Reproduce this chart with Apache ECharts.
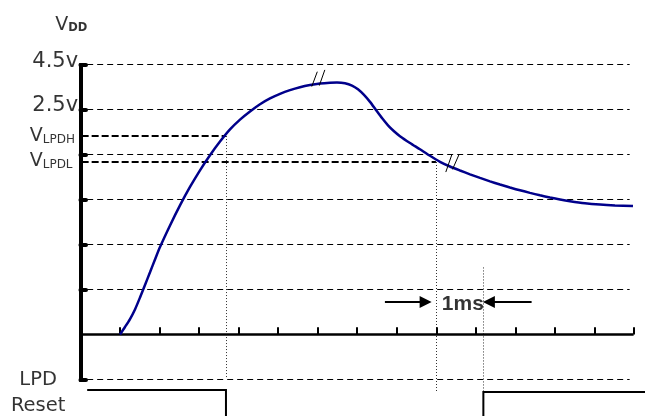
<!DOCTYPE html>
<html><head><meta charset="utf-8">
<script src="https://cdn.jsdelivr.net/npm/echarts@6/dist/echarts.min.js"></script>
<style>html,body{margin:0;padding:0;background:#fff}#c{width:645px;height:416px}</style>
</head><body><div id="c"></div>
<script>
// ---- data (diagram units: x = time ticks, y = level steps) ----
const curveX = [0, 0.126, 0.253, 0.379, 0.506, 0.632, 0.759, 0.885, 1.012, 1.265, 1.517, 1.770, 2.023, 2.276, 2.529, 2.782, 3.035, 3.288, 3.541, 3.794, 4.047, 4.299, 4.552, 4.805, 5.058, 5.311, 5.488, 5.690, 5.868, 6.019, 6.171, 6.323, 6.474, 6.626, 6.778, 6.930, 7.081, 7.334, 7.587, 7.840, 8.093, 8.346, 8.599, 8.852, 9.105, 9.358, 9.611, 9.863, 10.116, 10.369, 10.622, 10.875, 11.128, 11.381, 11.760, 12.140, 12.519, 12.974];
const curveY = [0, 0.167, 0.344, 0.556, 0.822, 1.100, 1.382, 1.667, 1.944, 2.424, 2.869, 3.278, 3.649, 3.984, 4.287, 4.558, 4.776, 4.958, 5.118, 5.247, 5.349, 5.431, 5.496, 5.544, 5.578, 5.596, 5.600, 5.584, 5.533, 5.449, 5.324, 5.169, 4.989, 4.809, 4.649, 4.516, 4.407, 4.256, 4.116, 3.971, 3.838, 3.733, 3.644, 3.560, 3.480, 3.404, 3.333, 3.267, 3.204, 3.147, 3.093, 3.044, 3.000, 2.962, 2.916, 2.887, 2.869, 2.856];
const gridLevels = [6, 5, 4, 3, 2, 1, -1];
const timeTicks = [0, 1, 2, 3, 4, 5, 6, 7, 8, 9, 10, 11, 12, 13];
const vddLevels = ['4.5v', '2.5v'];
const thresholdNames = ['LPDH', 'LPDL'];
const thresholdValues = [4.41, 3.833];
const thresholdCrossX = [2.68, 7.99];
const resetRiseX = 9.19;
const resetHighLevels = [-1.233, -1.278];
const resetLowLevel = -3;
const markerStartY = 1.49;
const oneMsLabel = '1ms';
const oneMsX = [6.70, 7.73, 10.41, 9.33];
const oneMsY = 0.72;
const breakMarks = [
  [[4.85, 5.51], [4.99, 5.84]], [[5.04, 5.53], [5.18, 5.88]],
  [[8.24, 3.61], [8.39, 3.99]], [[8.41, 3.67], [8.58, 4.01]]
];

// ---- layout extents ----
const xMin = -3.035, xMax = 13.278, yMin = -81.5 / 45, yMax = 334.5 / 45;
const axisX = -1, gridStart = -0.83, gridEnd = 12.89, lastTick = 12.99;

function seg(a, b) { return { coords: [a, b] }; }
function linesSeries(data, style, extra) {
  return Object.assign({
    type: 'lines', coordinateSystem: 'cartesian2d', silent: true,
    data: data, lineStyle: Object.assign({ opacity: 1, color: '#000', width: 1 }, style)
  }, extra || {});
}

const dashedGrid = gridLevels.map(l => seg([gridStart, l], [gridEnd, l]));
const thickDashed = thresholdValues.map((v, i) => seg([axisX + 0.03, v], [thresholdCrossX[i], v]));
const dotted = [
  seg([thresholdCrossX[0], thresholdValues[0]], [thresholdCrossX[0], -0.96]),
  seg([thresholdCrossX[1], thresholdValues[1]], [thresholdCrossX[1], resetHighLevels[1]]),
  seg([resetRiseX, markerStartY], [resetRiseX, resetHighLevels[1]])
];
const yAxisLine = [seg([axisX, 6.03], [axisX, -1.05])];
const yTickMarks = gridLevels.map(l => seg([axisX, l], [axisX + 0.14, l]));
const baseLine = [seg([axisX, 0], [lastTick, 0])];
const xTickMarks = timeTicks.map(t => seg([Math.min(t, lastTick), 0], [Math.min(t, lastTick), 0.16]));
const resetLines = [
  { coords: [[gridStart, resetHighLevels[0]], [thresholdCrossX[0], resetHighLevels[0]], [thresholdCrossX[0], resetLowLevel]] },
  { coords: [[resetRiseX, resetLowLevel], [resetRiseX, resetHighLevels[1]], [xMax + 0.5, resetHighLevels[1]]] }
];
const arrows = [
  seg([oneMsX[0], oneMsY], [oneMsX[1], oneMsY]),
  seg([oneMsX[2], oneMsY], [oneMsX[3], oneMsY])
];
const breaks = breakMarks.map(b => seg(b[0], b[1]));

const FONT = 'DejaVu Sans';
const textPoints = [
  { value: [-1.06, 6.07], label: { formatter: vddLevels[0], align: 'right', fontSize: 21 } },
  { value: [-1.06, 5.08], label: { formatter: vddLevels[1], align: 'right', fontSize: 21 } },
  { value: [-1.14, 4.43], label: { formatter: '{v|V}{s|' + thresholdNames[0] + '}', align: 'right' } },
  { value: [-1.20, 3.88], label: { formatter: '{v|V}{s|' + thresholdNames[1] + '}', align: 'right' } },
  { value: [-1.64, 6.90], label: { formatter: '{v|V}{b|DD}', align: 'left' } },
  { value: [-2.07, -1.30], label: { formatter: 'LPD\nReset', align: 'center', fontSize: 19.5, lineHeight: 26 } },
  { value: [8.67, 0.68], label: { formatter: oneMsLabel, align: 'center', fontSize: 21, fontWeight: 'bold', fontFamily: 'Liberation Sans' } }
];

const option = {
  animation: false,
  backgroundColor: '#fff',
  grid: { left: 0, right: 0, top: 0, bottom: 0 },
  xAxis: { type: 'value', min: xMin, max: xMax, show: false },
  yAxis: { type: 'value', min: yMin, max: yMax, show: false },
  series: [
    linesSeries(dashedGrid, { width: 1, type: [6, 4], color: '#000' }, { z: 1 }),
    linesSeries(thickDashed, { width: 2, type: [7, 3], color: '#000' }, { z: 2 }),
    linesSeries(dotted, { width: 1, type: [1, 2], color: '#333' }, { z: 2 }),
    linesSeries(yAxisLine, { width: 4, color: '#000' }, { z: 3 }),
    linesSeries(yTickMarks, { width: 4, color: '#000', cap: 'round' }, { z: 3 }),
    linesSeries(baseLine, { width: 2.5, color: '#000' }, { z: 3 }),
    linesSeries(xTickMarks, { width: 2, color: '#000' }, { z: 3 }),
    linesSeries(resetLines, { width: 2, color: '#000' }, { z: 3, polyline: true }),
    linesSeries(arrows, { width: 2, color: '#000' }, { z: 3, symbol: ['none', 'triangle'], symbolSize: 12 }),
    {
      type: 'line', z: 5, silent: true, showSymbol: false, smooth: 0.25,
      data: curveX.map((x, i) => [x, curveY[i]]),
      lineStyle: { color: '#00008b', width: 2.5 }
    },
    linesSeries(breaks, { width: 1, color: '#000' }, { z: 6 }),
    {
      type: 'scatter', z: 7, silent: true, symbolSize: 0,
      data: textPoints,
      label: {
        show: true, position: 'inside', verticalAlign: 'middle', color: '#000',
        fontFamily: FONT, fontSize: 18,
        rich: {
          v: { fontFamily: FONT, fontSize: 19, color: '#000', verticalAlign: 'bottom', lineHeight: 21 },
          s: { fontFamily: FONT, fontSize: 12, color: '#000', verticalAlign: 'bottom', lineHeight: 14 },
          b: { fontFamily: FONT, fontSize: 11.5, fontWeight: 'bold', color: '#000', verticalAlign: 'bottom', lineHeight: 14 }
        }
      }
    }
  ]
};
const chart = echarts.init(document.getElementById('c'), null, { renderer: 'canvas' });
chart.setOption(option);
</script>
</body></html>
